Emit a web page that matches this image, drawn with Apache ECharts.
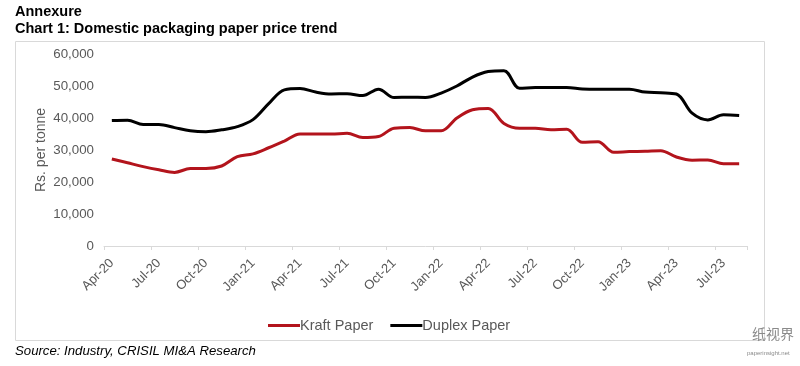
<!DOCTYPE html>
<html>
<head>
<meta charset="utf-8">
<script src="https://cdn.jsdelivr.net/npm/echarts@6/dist/echarts.min.js"></script>
<style>html,body{margin:0;padding:0;background:#fff;}#c{width:800px;height:366px;}</style>
</head>
<body>
<div id="c"></div>
<script>
const months = ['Apr-20','May-20','Jun-20','Jul-20','Aug-20','Sep-20','Oct-20','Nov-20','Dec-20',
  'Jan-21','Feb-21','Mar-21','Apr-21','May-21','Jun-21','Jul-21','Aug-21','Sep-21','Oct-21','Nov-21','Dec-21',
  'Jan-22','Feb-22','Mar-22','Apr-22','May-22','Jun-22','Jul-22','Aug-22','Sep-22','Oct-22','Nov-22','Dec-22',
  'Jan-23','Feb-23','Mar-23','Apr-23','May-23','Jun-23','Jul-23','Aug-23'];
const kraftPaper = [27200,26000,24800,23800,23000,24200,24200,25000,27900,
  28800,30700,32800,35000,35000,35000,35200,33900,34200,36800,37000,36000,
  36000,40000,42600,43000,38300,36800,36800,36300,36500,32400,32600,29300,
  29500,29600,29800,27800,26800,26900,25700,25700];
const duplexPaper = [39200,39300,38000,38000,37000,36000,35700,36300,37300,
  39500,44500,48800,49200,48100,47500,47600,47000,49000,46400,46500,46400,
  47800,50000,52800,54500,54800,49300,49500,49500,49500,49100,49000,49000,
  49000,48100,47900,47500,41500,39400,41000,40800];
const yTicks = [0,10000,20000,30000,40000,50000,60000];

const chart = echarts.init(document.getElementById('c'));
const grey = '#595959';
const ff = 'Liberation Sans, Arial, sans-serif';
chart.setOption({
  animation: false,
  textStyle: {fontFamily: ff},
  graphic: [
    {type: 'rect', shape: {x: 15.5, y: 41.5, width: 749, height: 299}, style: {fill: 'none', stroke: '#d9d9d9', lineWidth: 1}, z: -1},
    {type: 'text', left: 15, top: 4, style: {text: 'Annexure', font: 'bold 14.5px ' + ff, fill: '#000'}},
    {type: 'text', left: 15, top: 21, style: {text: 'Chart 1: Domestic packaging paper price trend', font: 'bold 14.5px ' + ff, fill: '#000'}},
    {type: 'text', left: 15, top: 345, style: {text: 'Source: Industry, CRISIL MI&A Research', font: 'italic 13.2px ' + ff, fill: '#000'}},
    {type: 'text', left: 752, top: 327, style: {text: '纸视界', font: '14px Noto Sans CJK SC, sans-serif', fill: '#8a8a8a'}},
    {type: 'text', left: 747, top: 350, style: {text: 'paperinsight.net', font: '6px ' + ff, fill: '#8a8a8a'}}
  ],
  legend: {
    left: 263, top: 313,
    icon: 'rect',
    itemWidth: 32, itemHeight: 3, itemGap: 17,
    textStyle: {color: grey, fontSize: 14.5, padding: [0,0,0,-5]},
    data: ['Kraft Paper', 'Duplex Paper']
  },
  grid: {left: 104, right: 53, top: 54, bottom: 120, containLabel: false},
  xAxis: {
    type: 'category',
    data: months,
    boundaryGap: true,
    axisLine: {lineStyle: {color: '#d9d9d9', width: 1}},
    axisTick: {show: true, interval: 2, length: 4, lineStyle: {color: '#d9d9d9'}},
    axisLabel: {interval: 2, rotate: 45, color: grey, fontSize: 13, margin: 15}
  },
  yAxis: {
    type: 'value',
    min: 0, max: 60000, interval: 10000,
    name: 'Rs. per tonne',
    nameLocation: 'middle',
    nameGap: 56,
    nameRotate: 90,
    nameMoveOverlap: false,
    nameTextStyle: {color: grey, fontSize: 14},
    axisLine: {show: false},
    axisTick: {show: false},
    splitLine: {show: false},
    axisLabel: {color: grey, fontSize: 13.3, margin: 10,
      formatter: v => yTicks.includes(v) ? v.toLocaleString('en-US') : ''}
  },
  series: [
    {name: 'Kraft Paper', type: 'line', data: kraftPaper, smooth: 0.35, symbol: 'none',
     lineStyle: {color: '#b3141c', width: 3}, itemStyle: {color: '#b3141c'}},
    {name: 'Duplex Paper', type: 'line', data: duplexPaper, smooth: 0.35, symbol: 'none',
     lineStyle: {color: '#000000', width: 3}, itemStyle: {color: '#000000'}}
  ]
});
</script>
</body>
</html>
